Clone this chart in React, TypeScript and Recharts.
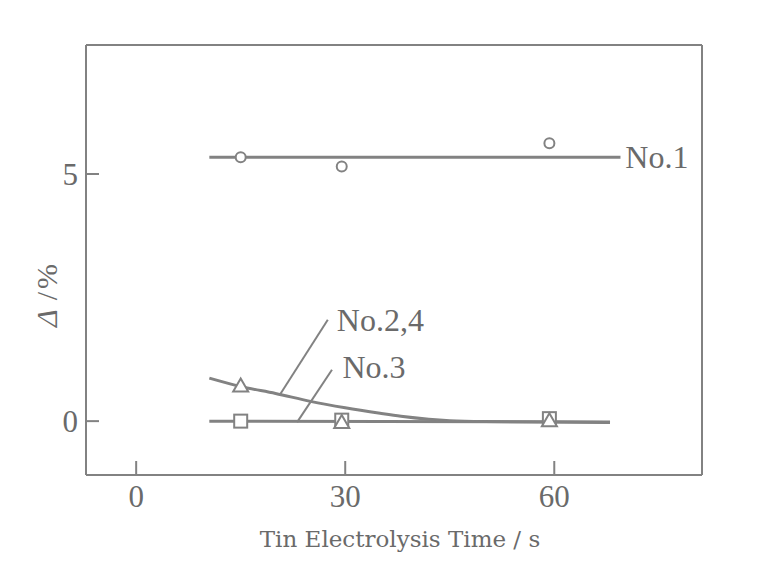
import React from 'react';
import {
  ComposedChart,
  Line,
  Scatter,
  XAxis,
  YAxis,
  ReferenceLine,
  ReferenceDot,
} from 'recharts';

// measured points (tin electrolysis time in s, delta in %)
const pointTimes = [15, 29.5, 59.3];
const no1Values = [5.34, 5.15, 5.62];
const no24Values = [0.7, -0.04, 0.0];
const no3Values = [0.0, 0.02, 0.05];

// fitted lines
const no1LineTimes = [10.5, 69.5];
const no1LineValues = [5.34, 5.34];
const no24CurveTimes = [10.5, 15, 20, 25, 30, 35, 38, 42, 45, 50, 60, 68];
const no24CurveValues = [0.87, 0.7, 0.56, 0.4, 0.27, 0.16, 0.1, 0.04, 0.01, -0.01, -0.02, -0.03];
const no3LineTimes = [10.5, 68];
const no3LineValues = [0.0, -0.02];

const xTicks = [0, 30, 60];
const yTicks = [0, 5];
const xDomain = [-7.2, 81.2];
const yDomain = [-1.09, 7.61];

// callout text and leader lines
const no1Label = { x: 70.2, y: 5.34, text: 'No.1' };
const no24Label = { x: 28.8, y: 2.06, text: 'No.2,4' };
const no3Label = { x: 29.6, y: 1.09, text: 'No.3' };
const no24Leader = [{ x: 20.6, y: 0.53 }, { x: 27.5, y: 2.05 }];
const no3Leader = [{ x: 23.1, y: -0.02 }, { x: 28.1, y: 1.04 }];

const toRows = (xs: number[], ys: number[]) => xs.map((t, i) => ({ t, v: ys[i] }));

const INK = '#828282';
const TEXT = '#6a6a6a';
const SERIF = '"Liberation Serif", "Times New Roman", serif';

const Circle = (p: any) => (
  <circle cx={p.cx} cy={p.cy} r={5} fill="#fff" stroke={INK} strokeWidth={2} />
);
const Square = (p: any) => (
  <rect x={p.cx - 6.5} y={p.cy - 6.5} width={13} height={13} fill="#fff" stroke={INK} strokeWidth={2} />
);
const Triangle = (p: any) => (
  <polygon
    points={`${p.cx},${p.cy - 8} ${p.cx - 7.5},${p.cy + 5} ${p.cx + 7.5},${p.cy + 5}`}
    fill="#fff"
    stroke={INK}
    strokeWidth={2}
  />
);

const calloutLabel = (text: string) => (props: any) => {
  const { viewBox } = props;
  return (
    <text x={viewBox.x} y={viewBox.y} dy="0.35em" fill={TEXT} fontFamily={SERIF} fontSize={32}>
      {text}
    </text>
  );
};

export default function App() {
  return (
    <ComposedChart
      width={760}
      height={572}
      margin={{ top: 37, right: 66, left: 18, bottom: 65 }}
    >
      <XAxis
        dataKey="t"
        type="number"
        domain={xDomain}
        ticks={xTicks}
        allowDataOverflow
        stroke={INK}
        strokeWidth={2}
        tickSize={-14}
        tickMargin={24}
        height={40}
        tick={{ fill: TEXT, fontFamily: SERIF, fontSize: 31 }}
        label={(props: any) => {
          const vb = props.viewBox;
          return (
            <text
              x={vb.x + vb.width / 2 + 6}
              y={vb.y + 72}
              textAnchor="middle"
              fill={TEXT}
              fontFamily='"DejaVu Serif", serif'
              fontSize={23}
            >
              Tin Electrolysis Time / s
            </text>
          );
        }}
      />
      <YAxis
        type="number"
        domain={yDomain}
        ticks={yTicks}
        allowDataOverflow
        width={60}
        stroke={INK}
        strokeWidth={2}
        tickSize={-13}
        tickMargin={21}
        tick={{ fill: TEXT, fontFamily: SERIF, fontSize: 31 }}
        label={(props: any) => {
          const vb = props.viewBox;
          const cx = vb.x + 20;
          const cy = vb.y + vb.height / 2 + 34;
          return (
            <text
              x={cx}
              y={cy}
              transform={`rotate(-90, ${cx}, ${cy})`}
              textAnchor="middle"
              dominantBaseline="central"
              fill={TEXT}
              fontFamily={SERIF}
              fontSize={30}
              letterSpacing={3}
            >
              <tspan fontStyle="italic">Δ</tspan>
              <tspan dx={6}>/%</tspan>
            </text>
          );
        }}
      />

      {/* top and right frame */}
      <ReferenceLine y={yDomain[1]} stroke={INK} strokeWidth={2} ifOverflow="visible" />
      <ReferenceLine x={xDomain[1]} stroke={INK} strokeWidth={2} ifOverflow="visible" />

      <Line
        data={toRows(no1LineTimes, no1LineValues)}
        dataKey="v"
        type="linear"
        stroke={INK}
        strokeWidth={3}
        dot={false}
        activeDot={false}
        isAnimationActive={false}
      />
      <Line
        data={toRows(no24CurveTimes, no24CurveValues)}
        dataKey="v"
        type="monotone"
        stroke={INK}
        strokeWidth={3}
        dot={false}
        activeDot={false}
        isAnimationActive={false}
      />
      <Line
        data={toRows(no3LineTimes, no3LineValues)}
        dataKey="v"
        type="linear"
        stroke={INK}
        strokeWidth={3}
        dot={false}
        activeDot={false}
        isAnimationActive={false}
      />

      <ReferenceLine segment={no24Leader} stroke={INK} strokeWidth={2} ifOverflow="visible" />
      <ReferenceLine segment={no3Leader} stroke={INK} strokeWidth={2} ifOverflow="visible" />

      <Scatter data={toRows(pointTimes, no1Values)} dataKey="v" shape={Circle} isAnimationActive={false} />
      <Scatter data={toRows(pointTimes, no3Values)} dataKey="v" shape={Square} isAnimationActive={false} />
      <Scatter data={toRows(pointTimes, no24Values)} dataKey="v" shape={Triangle} isAnimationActive={false} />

      {[no1Label, no24Label, no3Label].map((l) => (
        <ReferenceDot
          key={l.text}
          x={l.x}
          y={l.y}
          r={0}
          fill="none"
          stroke="none"
          ifOverflow="visible"
          label={calloutLabel(l.text)}
        />
      ))}
    </ComposedChart>
  );
}
